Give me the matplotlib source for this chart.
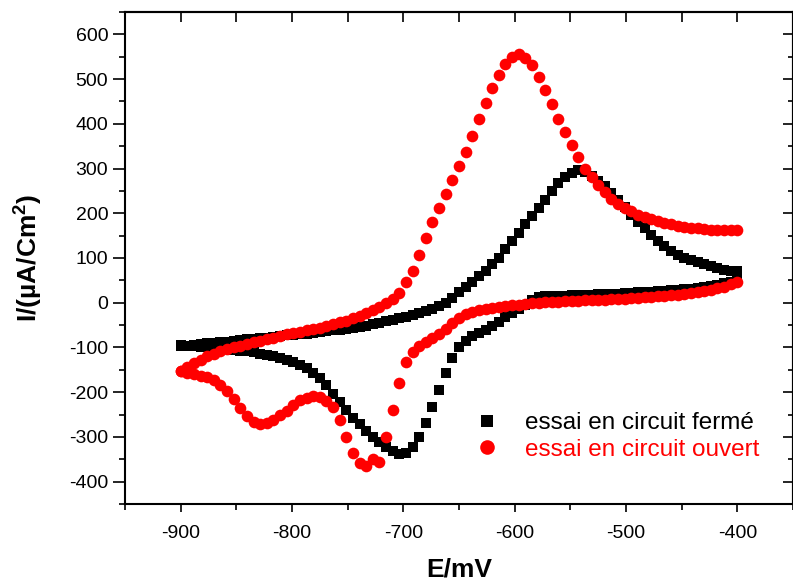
# coding utf-8
import numpy as np
import matplotlib
matplotlib.use("Agg")
import matplotlib.pyplot as plt
from matplotlib.ticker import MultipleLocator

# potential sweep (mV), 85 points from -900 to -400
E = np.linspace(-900, -400, 85)

# essai en circuit fermé  (µA/cm2)
ferme_aller = [-97, -96, -94, -93, -91, -90, -88, -87, -85, -84, -82, -81, -79, -78, -76, -75,
               -73, -72, -70, -69, -67, -66, -64, -62, -60, -58, -56, -54, -51, -48, -45, -41,
               -38, -35, -31, -27, -22, -18, -13, -7, -1,
               10, 23, 35, 47, 59, 71, 86, 101, 120, 138, 157, 175, 193, 211, 230, 250, 267,
               281, 291, 297, 293, 283, 272, 260, 245, 230, 215, 197, 181, 166, 151, 137, 126,
               115, 106, 100, 95, 91, 86, 81, 77, 74, 71, 70]
ferme_retour = [-95, -96, -97, -98, -99, -100, -101, -103, -105, -107, -109, -111, -114, -117,
                -120, -124, -128, -133, -139, -147, -156, -168, -185, -203, -222, -240, -257,
                -272, -287, -300, -311, -322, -331, -338, -335, -323, -300, -268, -233, -195,
                -158, -123, -100, -85, -75, -68, -61, -53, -44, -33, -23, -14, -4, 6, 12, 14,
                15, 15, 16, 17, 17, 18, 18, 19, 19, 20, 20, 21, 22, 23, 24, 25, 26, 27, 28, 29,
                30, 31, 33, 35, 37, 40, 43, 46, 50]

# essai en circuit ouvert  (µA/cm2)
ouvert_aller = [-153, -143, -134, -127, -120, -114, -109, -104, -100, -96, -92, -88, -85, -81,
                -78, -75, -71, -68, -65, -62, -59, -56, -52, -48, -44, -40, -35, -30, -24, -17,
                -9, -1, 8,
                22, 46, 72, 107, 145, 180, 212, 243, 274, 305, 338, 373, 410, 447, 480, 510,
                533, 550, 555, 547, 532, 504, 475, 444, 411, 381, 352, 326, 299, 282, 263, 247,
                232, 220, 211, 204, 197, 191, 187, 182, 179, 176, 172, 169, 167, 166, 165, 163,
                162, 162, 162, 162]
ouvert_retour = [-153, -156, -160, -163, -166, -172, -183, -197, -215, -236, -254, -266, -271,
                 -270, -262, -252, -241, -229, -218, -212, -208, -210, -220, -234, -262, -300,
                 -335, -358, -364, -350, -357, -300, -240, -180, -132, -110, -97, -88, -79, -70,
                 -58, -45, -35, -26, -21, -17, -14, -11, -9, -7, -5, -4, -2, -1,
                 0, 1, 2, 2, 3, 4, 4, 5, 6, 6, 7, 8, 8, 9, 10, 11, 12, 13, 14, 15, 17, 18, 20,
                 22, 24, 26, 29, 32, 36, 41, 47]

labels = ["essai en circuit fermé", "essai en circuit ouvert"]


def main():
    plt.rcParams['font.family'] = ['Liberation Sans', 'DejaVu Sans']
    plt.rcParams['axes.unicode_minus'] = False
    plt.rcParams['mathtext.fontset'] = 'custom'
    plt.rcParams['mathtext.rm'] = 'Liberation Sans'
    plt.rcParams['mathtext.bf'] = 'Liberation Sans:bold'

    fig = plt.figure(figsize=(7.93, 5.81), dpi=100)
    ax = fig.add_axes([125 / 793, 1 - 504 / 581, 668 / 793, 492 / 581])

    Ef = np.concatenate([E, E])
    If = np.concatenate([ferme_aller, ferme_retour])
    Io = np.concatenate([ouvert_aller, ouvert_retour])

    ax.plot(Ef, If, ls='none', marker='s', ms=7.0, mew=0, color='black', label=labels[0])
    ax.plot(Ef, Io, ls='none', marker='o', ms=8.4, mew=0, color='red', label=labels[1])

    ax.set_xlim(-950, -350)
    ax.set_ylim(-450, 650)

    ax.xaxis.set_major_locator(MultipleLocator(100))
    ax.xaxis.set_minor_locator(MultipleLocator(50))
    ax.yaxis.set_major_locator(MultipleLocator(100))
    ax.yaxis.set_minor_locator(MultipleLocator(50))

    ax.tick_params(axis='x', which='major', direction='out', length=6, width=1.2,
                   labelsize=14, pad=9, top=False)
    ax.tick_params(axis='x', which='minor', direction='out', length=4, width=1.2, top=False)
    ax.tick_params(axis='y', which='major', direction='out', length=8.5, width=1.2,
                   labelsize=14, pad=3.5, right=False)
    ax.tick_params(axis='y', which='minor', direction='out', length=4, width=1.2, right=False)

    # ticks inside on top and right
    secx = ax.secondary_xaxis('top')
    secx.xaxis.set_major_locator(MultipleLocator(50))
    secx.tick_params(direction='in', length=7, width=1.2, labeltop=False)
    secy = ax.secondary_yaxis('right')
    secy.yaxis.set_major_locator(MultipleLocator(100))
    secy.yaxis.set_minor_locator(MultipleLocator(50))
    secy.tick_params(which='major', direction='in', length=7, width=1.2, labelright=False)
    secy.tick_params(which='minor', direction='in', length=3.5, width=1.2)

    for sp in list(ax.spines.values()) + list(secx.spines.values()) + list(secy.spines.values()):
        sp.set_linewidth(1.5)

    ax.set_xlabel('E/mV', fontsize=19, fontweight='bold')
    ax.xaxis.set_label_coords(0.5, -0.108)
    ax.set_ylabel('I/(µA/Cm$^{\\mathbf{2}}$)', fontsize=19, fontweight='bold')
    ax.yaxis.set_label_coords(-0.122, 0.5)

    leg = ax.legend(loc='upper left', bbox_to_anchor=(0.524, 0.187), frameon=False,
                    fontsize=17.5, handlelength=1.0, handletextpad=1.07, borderpad=0,
                    borderaxespad=0, labelspacing=0.2, markerscale=1.25)
    for t, c in zip(leg.get_texts(), ['black', 'red']):
        t.set_color(c)

    fig.savefig('out.png', dpi=100)


if __name__ == '__main__':
    main()
